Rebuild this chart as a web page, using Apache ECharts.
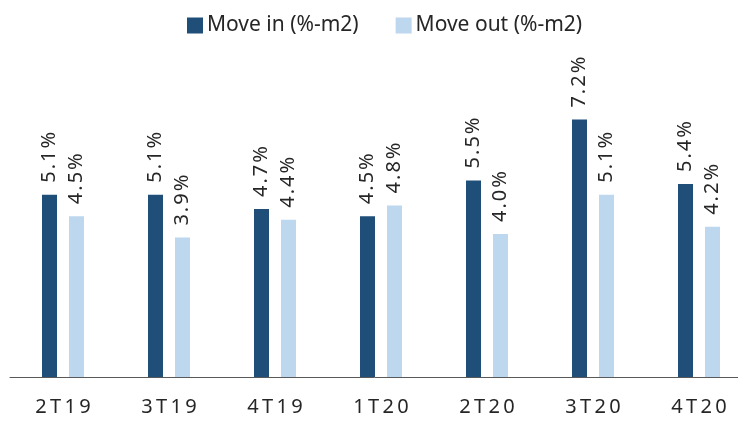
<!DOCTYPE html>
<html>
<head>
<meta charset="utf-8">
<script src="https://cdn.jsdelivr.net/npm/echarts@6/dist/echarts.min.js"></script>
<style>
  html, body { margin: 0; padding: 0; background: #ffffff; }
  #chart { width: 738px; height: 422px; }
</style>
</head>
<body>
<div id="chart"></div>
<script>
// Quarterly move-in / move-out rates (% of m2)
const quarters = ['2T19', '3T19', '4T19', '1T20', '2T20', '3T20', '4T20'];
const moveIn = [5.1, 5.1, 4.7, 4.5, 5.5, 7.2, 5.4];
const moveOut = [4.5, 3.9, 4.4, 4.8, 4.0, 5.1, 4.2];
const seriesNames = ['Move in (%-m2)', 'Move out (%-m2)'];

const FONT = '"Noto Sans", "Open Sans", sans-serif';

const valueLabel = {
  show: true,
  position: 'top',
  rotate: 90,
  align: 'left',
  verticalAlign: 'middle',
  distance: 10,
  offset: [2, 0],
  fontFamily: FONT,
  fontSize: 20,
  color: '#262626',
  formatter: p => p.value.toFixed(1).split('').join('\u200A') + '\u200A%'
};

const chart = echarts.init(document.getElementById('chart'), null, { renderer: 'canvas' });
chart.setOption({
  animation: false,
  backgroundColor: '#ffffff',
  legend: {
    left: 182,
    top: 10,
    itemWidth: 16,
    itemHeight: 16,
    itemGap: 37,
    icon: 'rect',
    textStyle: { fontFamily: FONT, fontSize: 21, color: '#262626', padding: [0, 0, 0, -1] },
    data: seriesNames
  },
  grid: { left: 10, right: -14, top: 91, bottom: 45, containLabel: false, outerBoundsMode: 'none' },
  xAxis: {
    type: 'category',
    data: quarters,
    axisLine: { show: true, lineStyle: { color: '#595959', width: 1 } },
    axisTick: { show: false },
    axisLabel: {
      margin: 20,
      fontFamily: FONT,
      fontSize: 20,
      color: '#262626',
      formatter: v => v.split('').join('\u2006')
    }
  },
  yAxis: {
    type: 'value',
    min: 0,
    max: 8,
    show: false,
    splitLine: { show: false }
  },
  series: [
    {
      name: seriesNames[0],
      type: 'bar',
      data: moveIn,
      barWidth: 15,
      barGap: '80%',
      itemStyle: { color: '#1F4E79' },
      label: valueLabel
    },
    {
      name: seriesNames[1],
      type: 'bar',
      data: moveOut,
      barWidth: 15,
      itemStyle: { color: '#BDD7EE' },
      label: valueLabel
    }
  ]
});
</script>
</body>
</html>
